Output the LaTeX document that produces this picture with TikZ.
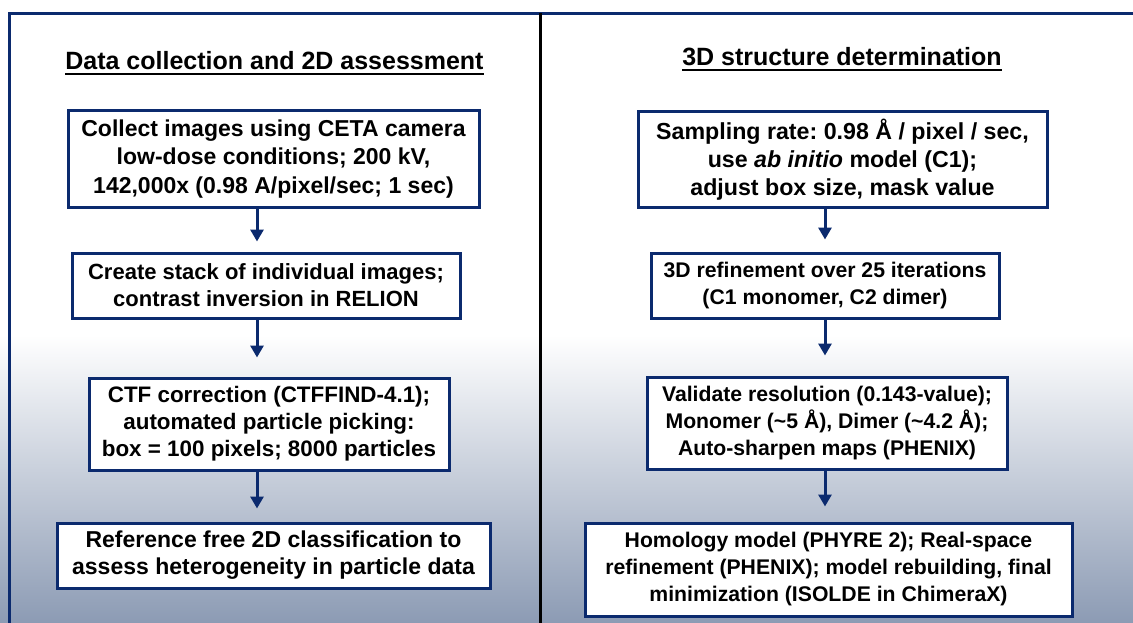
\documentclass[tikz,border=0pt]{standalone}
\usepackage{fontspec}
\setmainfont{Liberation Sans}
\usetikzlibrary{arrows.meta}
\definecolor{navy}{HTML}{0B2A6E}
\definecolor{bgbot}{RGB}{140,155,180}
\frenchspacing
\begin{document}
\begin{tikzpicture}[x=1pt,y=-1pt,
  stepbox/.style={draw=navy, line width=3pt, fill=white, align=center, inner sep=0pt},
  fs/.style={font=\fontsize{#1}{27}\selectfont\bfseries\frenchspacing},
  fst/.style={font=\fontsize{#1}{28.3}\selectfont\bfseries\frenchspacing},
  flow/.style={draw=navy, line width=3pt, -{Triangle[width=13pt,length=12pt]}},
  ttl/.style={anchor=base, inner sep=0pt, font=\fontsize{25}{30}\selectfont\bfseries},
  uline/.style={line width=2.5pt}]
\useasboundingbox (0,0) rectangle (1133,623);
% background
\fill[white] (0,0) rectangle (1133,623);
\shade[top color=white, bottom color=bgbot] (0,335) rectangle (1133,623);
% frame and divider
\draw[navy, line width=3pt] (9.3,623) -- (9.3,13.5) -- (1133,13.5);
\draw[black, line width=2.8pt] (540.7,13.5) -- (540.7,623);
% titles
\node[ttl] (t1) at (274.5,70) {Data collection and 2D assessment};
\draw[uline] ([yshift=-4pt]t1.base west) -- ([yshift=-4pt]t1.base east);
\node[ttl] (t2) at (842,66) {3D structure determination};
\draw[uline] ([yshift=-4pt]t2.base west) -- ([yshift=-4pt]t2.base east);
% left column
\node[stepbox, fst=23, minimum width=411pt, minimum height=96pt] (L1) at (273.5,159)
  {Collect images using CETA camera\\low-dose conditions; 200 kV,\\142,000x (0.98 A/pixel/sec; 1 sec)};
\node[stepbox, fs=22, minimum width=388pt, minimum height=65pt] (L2) at (266,285.5)
  {Create stack of individual images;\\contrast inversion in RELION};
\node[stepbox, fs=22.4, minimum width=360pt, minimum height=92pt] (L3) at (269,424)
  {CTF correction (CTFFIND-4.1);\\automated particle picking:\\box = 100 pixels; 8000 particles};
\node[stepbox, fs=23, minimum width=433pt, minimum height=65pt] (L4) at (273.5,555.5)
  {Reference free 2D classification to\\assess heterogeneity in particle data};
% right column
\node[stepbox, fst=23.2, minimum width=409pt, minimum height=95pt] (R1) at (842.5,159.5)
  {Sampling rate: 0.98 Å / pixel / sec,\\use \textit{ab initio} model (C1);\\adjust box size, mask value};
\node[stepbox, fs=21.2, minimum width=348pt, minimum height=65pt] (R2) at (825,285.5)
  {3D refinement over 25 iterations\\(C1 monomer, C2 dimer)};
\node[stepbox, fs=21.2, minimum width=360pt, minimum height=92pt] (R3) at (827,423)
  {Validate resolution (0.143-value);\\Monomer (\textasciitilde5 Å), Dimer (\textasciitilde4.2 Å);\\Auto-sharpen maps (PHENIX)};
\node[stepbox, fs=21.2, minimum width=487pt, minimum height=93pt] (R4) at (828.5,569.5)
  {Homology model (PHYRE 2); Real-space\\refinement (PHENIX); model rebuilding, final\\minimization (ISOLDE in ChimeraX)};
% arrows
\coordinate (xl) at (257,0);
\coordinate (xr) at (825,0);
\draw[flow, shorten >=10pt] (L1.south -| xl) -- (L2.north -| xl);
\draw[flow, shorten >=19pt] (L2.south -| xl) -- (L3.north -| xl);
\draw[flow, shorten >=13pt] (L3.south -| xl) -- (L4.north -| xl);
\draw[flow, shorten >=12pt] (R1.south -| xr) -- (R2.north -| xr);
\draw[flow, shorten >=20pt] (R2.south -| xr) -- (R3.north -| xr);
\draw[flow, shorten >=15pt] (R3.south -| xr) -- (R4.north -| xr);
\end{tikzpicture}
\end{document}
